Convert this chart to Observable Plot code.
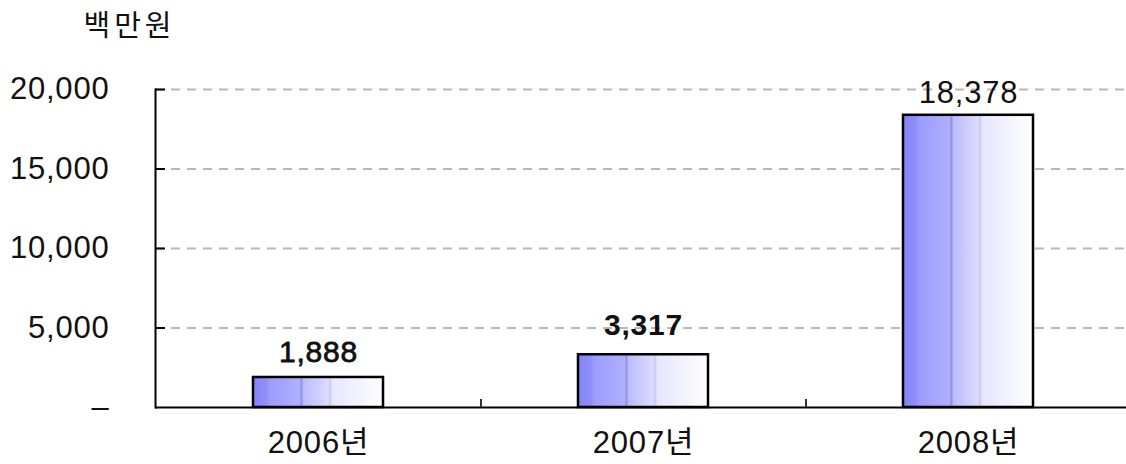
<!DOCTYPE html>
<html>
<head>
<meta charset="utf-8">
<script src="https://cdn.jsdelivr.net/npm/d3@7"></script>
<script src="https://cdn.jsdelivr.net/npm/@observablehq/plot@0.6"></script>
<style>
  html, body { margin: 0; padding: 0; background: #fff; }
  svg { display: block; }
  svg text { letter-spacing: 0.8px; }
  svg .title text { letter-spacing: 4px; }
</style>
</head>
<body>
<div id="chart"></div>
<script>
const years = ["2006년", "2007년", "2008년"];
const values = [1888, 3317, 18378];
const yTicks = [0, 5000, 10000, 15000, 20000];
const unitLabel = "백만원";

const data = years.map((year, i) => ({year, value: values[i]}));
const fmt = d3.format(",");
const font = "'Liberation Sans', 'Noto Sans CJK KR', sans-serif";

const chart = Plot.plot({
  width: 1126,
  height: 464,
  marginLeft: 155,
  marginRight: 0,
  marginTop: 89,
  marginBottom: 57,
  style: {fontFamily: font, fontSize: "30px", color: "#111", background: "#fff"},
  x: {domain: years, range: [155, 1130], paddingInner: 0.6, paddingOuter: 0.3, label: null},
  y: {domain: [0, 20000], label: null},
  marks: [
    Plot.gridY(yTicks.filter(d => d > 0), {stroke: "#b8b8b8", strokeOpacity: 1, strokeWidth: 2, strokeDasharray: "9,7"}),
    Plot.axisY(yTicks, {tickSize: 0, tickPadding: 46, tickFormat: d => d === 0 ? "–" : fmt(d), fontSize: 31, fill: "#111"}),
    Plot.axisY(yTicks.filter(d => d > 0), {tickSize: -10, text: null, stroke: "#000", strokeWidth: 2}),
    Plot.axisX({tickSize: 0, tickPadding: 23, fontSize: 31, fill: "#111"}),
    Plot.ruleY([0], {stroke: "#000", strokeWidth: 2}),
    Plot.frame({anchor: "left", stroke: "#000", strokeWidth: 2}),
    Plot.ruleX(years.slice(0, 2), {x: d => d, y1: 0, y2: 500, dx: 162.5, stroke: "#333", strokeWidth: 2}),
    Plot.barY(data, {x: "year", y: "value", fill: "url(#barGrad)", stroke: "#000", strokeWidth: 2.5}),
    Plot.text(data, {filter: d => d.value < 2000, x: "year", y: "value", text: d => fmt(d.value), lineAnchor: "bottom", dy: -15, fontSize: 30, fill: "#111", stroke: "#111", strokeWidth: 0.8}),
    Plot.text(data, {filter: d => d.value >= 2000 && d.value < 10000, x: "year", y: "value", text: d => fmt(d.value), lineAnchor: "bottom", dy: -20, fontSize: 30, fill: "#111", fontWeight: "bold"}),
    Plot.text(data, {filter: d => d.value >= 10000, x: "year", y: "value", text: d => fmt(d.value), lineAnchor: "bottom", dy: -12, fontSize: 31, fill: "#111"}),
    Plot.text([unitLabel], {frameAnchor: "top-left", dx: -72, dy: -63, textAnchor: "start", lineAnchor: "middle", fontSize: 29, fill: "#111", className: "title"})
  ]
});

// gradient definition for bars
const ns = "http://www.w3.org/2000/svg";
const defs = document.createElementNS(ns, "defs");
const grad = document.createElementNS(ns, "linearGradient");
grad.setAttribute("id", "barGrad");
grad.setAttribute("x1", "0"); grad.setAttribute("x2", "1");
grad.setAttribute("y1", "0"); grad.setAttribute("y2", "0");
const stops = [
  [0.00, "#8484f6"], [0.10, "#8e8efc"], [0.12, "#9a9af4"], [0.14, "#9d9dff"],
  [0.36, "#b0b0ff"], [0.37, "#8c8ce0"], [0.39, "#bcbcff"], [0.58, "#dcdcff"],
  [0.59, "#c8c8ec"], [0.61, "#e6e6ff"], [0.80, "#f2f2ff"], [1.00, "#ffffff"]
];
for (const [o, c] of stops) {
  const s = document.createElementNS(ns, "stop");
  s.setAttribute("offset", o);
  s.setAttribute("stop-color", c);
  grad.appendChild(s);
}
defs.appendChild(grad);
chart.insertBefore(defs, chart.firstChild);

document.getElementById("chart").appendChild(chart);
</script>
</body>
</html>
